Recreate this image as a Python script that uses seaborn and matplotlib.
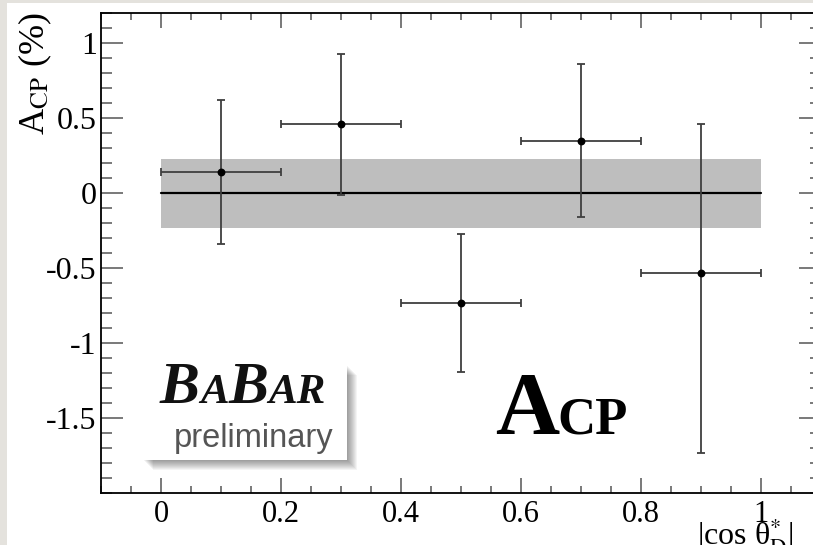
import matplotlib
matplotlib.use("Agg")
import matplotlib.pyplot as plt
from matplotlib.patches import Rectangle
import seaborn as sns
import pandas as pd
import numpy as np

# ---------------- data ----------------
bin_centers = [0.1, 0.3, 0.5, 0.7, 0.9]
bin_half_width = [0.1, 0.1, 0.1, 0.1, 0.1]
acp_values = [0.14, 0.46, -0.73, 0.35, -0.53]
acp_err_low = [0.48, 0.47, 0.46, 0.51, 1.20]
acp_err_high = [0.48, 0.47, 0.46, 0.51, 0.99]
band_x = [0.0, 1.0]
band_low = [-0.23, -0.23]
band_high = [0.23, 0.23]
fit_x = [0.0, 1.0]
fit_y = [0.0, 0.0]
x_ticks = [0, 0.2, 0.4, 0.6, 0.8, 1]
x_tick_labels = ["0", "0.2", "0.4", "0.6", "0.8", "1"]
y_ticks = [-1.5, -1, -0.5, 0, 0.5, 1]
y_tick_labels = ["-1.5", "-1", "-0.5", "0", "0.5", "1"]

df = pd.DataFrame({"x": bin_centers, "y": acp_values})
fit_df = pd.DataFrame({"x": fit_x, "y": fit_y})

# ---------------- style ----------------
sns.set_theme(style="ticks")
plt.rcParams["font.family"] = ["Liberation Serif", "DejaVu Serif"]
plt.rcParams["mathtext.fontset"] = "stix"

W, H = 813, 545
fig = plt.figure(figsize=(W / 100, H / 100), dpi=100)
fig.patch.set_facecolor("white")

def fx(px):
    return px / W

def fy(py):
    return 1 - py / H

# light gray page border (left and top strips)
fig.patches.append(Rectangle((0, 0), fx(7), 1, transform=fig.transFigure,
                             facecolor="#e4e2dd", edgecolor="none", zorder=0))
fig.patches.append(Rectangle((0, fy(3)), 1, fy(0) - fy(3), transform=fig.transFigure,
                             facecolor="#e4e2dd", edgecolor="none", zorder=0))

ax_left, ax_right, ax_top, ax_bottom = 101, 821, 13, 493
ax = fig.add_axes([fx(ax_left), fy(ax_bottom), (ax_right - ax_left) / W, (ax_bottom - ax_top) / H])
ax.set_facecolor("white")

# band and fit line
ax.fill_between(band_x, band_low, band_high, color="#bebebe", linewidth=0, zorder=1)
sns.lineplot(data=fit_df, x="x", y="y", ax=ax, color="black", linewidth=1.6, zorder=2)

# error bars
ax.errorbar(bin_centers, acp_values, xerr=bin_half_width,
            yerr=[acp_err_low, acp_err_high], fmt="none",
            ecolor="#3f3f3f", elinewidth=1.3, capsize=3, capthick=1.3, zorder=3)
sns.scatterplot(data=df, x="x", y="y", ax=ax, color="black", s=32,
                marker="o", edgecolor="black", linewidth=0, zorder=4)

ax.set_xlim(-0.1, 1.1)
ax.set_ylim(-2.0, 1.2)
ax.set_xlabel("")
ax.set_ylabel("")

ax.set_xticks(x_ticks)
ax.set_xticklabels(x_tick_labels)
ax.set_yticks(y_ticks)
ax.set_yticklabels(y_tick_labels)
ax.set_xticks(np.arange(-0.1, 1.1001, 0.05), minor=True)
ax.set_yticks(np.arange(-2.0, 1.2001, 0.1), minor=True)

ax.tick_params(axis="both", which="both", direction="in", top=True, right=True,
               color="#555555", width=1.1, labelsize=23, labelcolor="black")
ax.tick_params(axis="x", which="major", labelsize=22)
ax.tick_params(axis="y", which="major", length=15.8, pad=3)
ax.tick_params(axis="y", which="minor", length=7.9)
ax.tick_params(axis="x", which="major", length=10.8, pad=5)
ax.tick_params(axis="x", which="minor", length=5)

for sp in ax.spines.values():
    sp.set_color("black")
    sp.set_linewidth(1.3)

# axis titles
fig.text(fx(35), fy(12), r"A$_{\rm CP}$ (%)", rotation=90, ha="center", va="top",
         fontsize=26, color="black")
fig.text(fx(697), fy(545), r"|cos θ$^{*}_{\rm D}$|", ha="left", va="baseline",
         fontsize=23, color="black")

# BaBar logo box with soft shadow
bx0, by0, bx1, by1 = 143, 365, 347, 460
for i in range(10, 0, -1):
    fig.patches.append(Rectangle((fx(bx0 + i), fy(by1 + i)), (bx1 - bx0) / W, (by1 - by0) / H,
                                 transform=fig.transFigure, facecolor="black",
                                 edgecolor="none", alpha=0.045, zorder=5))
fig.patches.append(Rectangle((fx(bx0), fy(by1)), (bx1 - bx0) / W, (by1 - by0) / H,
                             transform=fig.transFigure, facecolor="white",
                             edgecolor="none", zorder=6))

fig.canvas.draw()
renderer = fig.canvas.get_renderer()

def chain(parts, x0_px, base_px, gap=0.0, **kw):
    x = x0_px
    for txt, size in parts:
        t = fig.text(fx(x), fy(base_px), txt, fontsize=size, va="baseline", ha="left",
                     zorder=7, **kw)
        bb = t.get_window_extent(renderer)
        x = x + bb.width + gap
    return x

chain([("B", 43), ("A", 31), ("B", 43), ("AR", 31)], 160, 403, gap=0,
      fontweight="bold", fontstyle="italic", color="#111111",
      family=["Liberation Serif"])
fig.text(fx(174), fy(447), "preliminary", fontsize=23.5, color="#555555",
         family=["Liberation Sans"], va="baseline", ha="left", zorder=7)

# big A_CP label
chain([("A", 64), ("CP", 38)], 495, 433, gap=-2, fontweight="bold", color="black",
      family=["Liberation Serif"])

fig.savefig("out.png", dpi=100)
